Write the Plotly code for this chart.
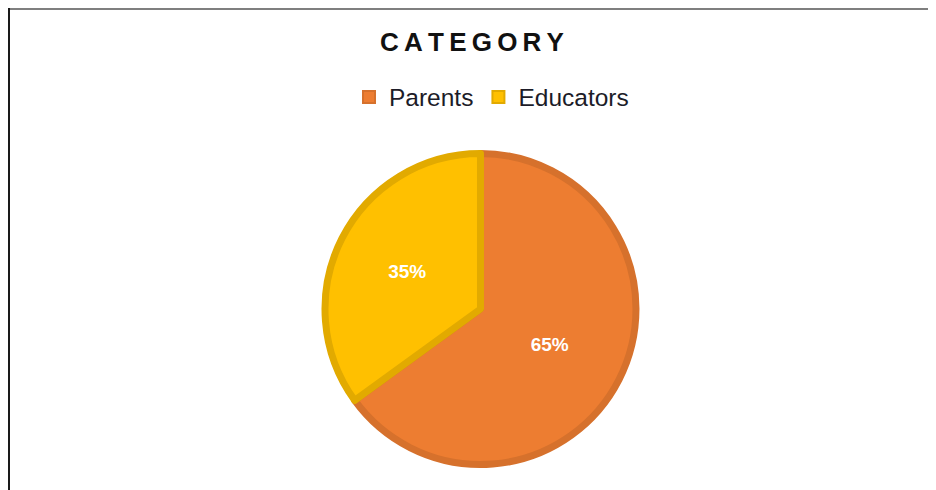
import plotly.graph_objects as go

# data
labels = ["Parents", "Educators"]
values = [65, 35]
fill_colors = ["#ED7D31", "#FFC000"]
edge_colors = ["#D6712C", "#E2AA00"]

title_text = "\u2009".join("CATEGORY")

# the page body adds an 8px margin, so the figure is 8px smaller than the window
W, H = 928, 482

fig = go.Figure()

fig.add_trace(go.Pie(
    labels=labels,
    values=values,
    sort=False,
    direction="clockwise",
    rotation=0,
    marker={"colors": fill_colors, "line": {"color": edge_colors, "width": 7}},
    texttemplate="%{percent:.0%}",
    textposition="inside",
    insidetextorientation="horizontal",
    insidetextfont={"family": "Arial, Liberation Sans", "size": 19,
                    "color": "white", "weight": "bold"},
    hoverinfo="label+percent",
    domain={"x": [0.3416, 0.6767], "y": [0.0529, 0.6981]},
))

fig.update_layout(
    width=W,
    height=H,
    margin={"l": 0, "r": 0, "t": 0, "b": 0},
    paper_bgcolor="white",
    plot_bgcolor="white",
    title={
        "text": title_text,
        "x": 0.5, "xanchor": "center",
        "y": 1 - 34 / H, "yanchor": "middle", "yref": "container",
        "font": {"family": "Arial, Liberation Sans", "size": 26,
                 "color": "#111111", "weight": "bold"},
    },
    legend={
        "orientation": "h",
        "x": 0.521, "xanchor": "center",
        "y": 1 - 89 / H, "yanchor": "middle",
        "font": {"family": "Arial, Liberation Sans", "size": 24.5, "color": "#1c1c28"},
        "itemsizing": "constant",
        "itemwidth": 30,
        "bgcolor": "rgba(0,0,0,0)",
    },
    shapes=[
        # frame lines: grey along the top, black down the left side
        {"type": "line", "xref": "paper", "yref": "paper",
         "x0": 0, "x1": 1, "y0": 1 - 1 / H, "y1": 1 - 1 / H,
         "line": {"color": "#7f7f7f", "width": 2}},
        {"type": "line", "xref": "paper", "yref": "paper",
         "x0": 1 / W, "x1": 1 / W, "y0": 0, "y1": 1,
         "line": {"color": "#1a1a1a", "width": 2}},
    ],
)

fig.write_html("out.html")
